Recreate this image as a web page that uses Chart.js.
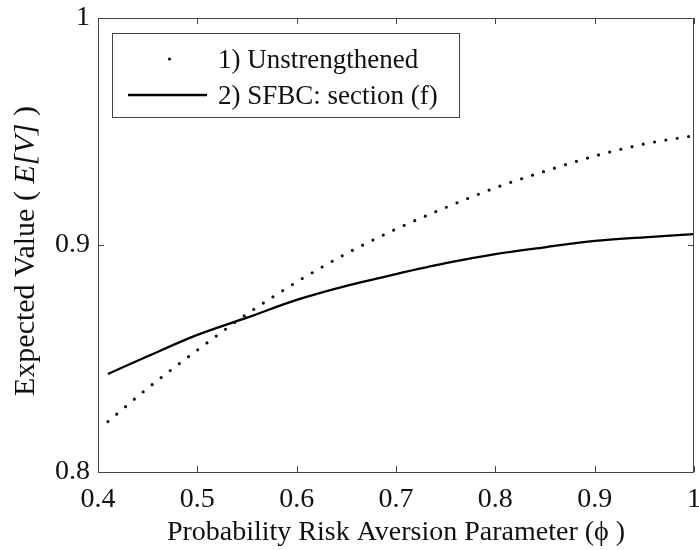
<!DOCTYPE html>
<html lang="en">
  <head>
    <meta charset="UTF-8" />
    <title>Expected Value vs Probability Risk Aversion</title>
    <style>
      html, body { margin: 0; padding: 0; background: #fff; }
      #wrap { width: 699px; height: 550px; }
    </style>
  </head>
  <body>
    <div id="wrap"><canvas id="evChart" width="699" height="550"></canvas></div>

    <script src="https://cdn.jsdelivr.net/npm/chart.js@4.4.1/dist/chart.umd.min.js"></script>
    <script>
      // Data
      const phi = [0.41, 0.45, 0.5, 0.55, 0.6, 0.65, 0.7, 0.75, 0.8, 0.85, 0.9, 0.95, 1.0];
      const unstrengthened = [0.8222, 0.8369, 0.8537, 0.8696, 0.8837, 0.8962, 0.907, 0.9165, 0.9252, 0.9325, 0.9392, 0.9445, 0.9482];
      const sfbc = [0.8432, 0.851, 0.8604, 0.868, 0.8758, 0.882, 0.8872, 0.892, 0.896, 0.899, 0.9018, 0.9034, 0.9048];
      const seriesLabels = ["1) Unstrengthened", "2) SFBC: section (f)"];
      const xTicks = [0.4, 0.5, 0.6, 0.7, 0.8, 0.9, 1];
      const xTickLabels = ["0.4", "0.5", "0.6", "0.7", "0.8", "0.9", "1"];
      const yTicks = [0.8, 0.9, 1];
      const yTickLabels = ["0.8", "0.9", "1"];

      const SERIF = "'Liberation Serif', 'Times New Roman', serif";
      const INK = "#111";
      const FRAME = "#444";

      const pairs = (xs, ys) => xs.map((x, i) => ({ x: x, y: ys[i] }));

      // MATLAB style box with inward ticks
      const frameTicks = {
        id: "frameTicks",
        afterDatasetsDraw(chart) {
          const { ctx, chartArea: a, scales } = chart;
          const len = 6;
          ctx.save();
          ctx.strokeStyle = FRAME;
          ctx.lineWidth = 1;
          ctx.beginPath();
          xTicks.forEach((v) => {
            const px = Math.round(scales.x.getPixelForValue(v)) + 0.5;
            ctx.moveTo(px, a.bottom);
            ctx.lineTo(px, a.bottom - len);
            ctx.moveTo(px, a.top);
            ctx.lineTo(px, a.top + len);
          });
          yTicks.forEach((v) => {
            const py = Math.round(scales.y.getPixelForValue(v)) + 0.5;
            ctx.moveTo(a.left, py);
            ctx.lineTo(a.left + len, py);
            ctx.moveTo(a.right, py);
            ctx.lineTo(a.right - len, py);
          });
          ctx.stroke();
          ctx.strokeRect(a.left + 0.5, a.top + 0.5, a.right - a.left - 1, a.bottom - a.top);
          ctx.restore();
        },
      };

      // legend drawn inside the axes, boxed
      const boxLegend = {
        id: "boxLegend",
        afterDraw(chart) {
          const { ctx, chartArea: a } = chart;
          const bx = a.left + 14, by = a.top + 15, bw = 347, bh = 84;
          ctx.save();
          ctx.fillStyle = "#fff";
          ctx.fillRect(bx, by, bw, bh);
          ctx.strokeStyle = FRAME;
          ctx.lineWidth = 1;
          ctx.strokeRect(bx + 0.5, by + 0.5, bw, bh);
          ctx.font = "27px " + SERIF;
          ctx.textBaseline = "alphabetic";
          ctx.fillStyle = INK;
          chart.data.datasets.forEach((ds, i) => {
            const base = by + 35 + i * 36;
            const midY = base - 9;
            const x0 = bx + 16, x1 = bx + 95;
            ctx.strokeStyle = ds.borderColor;
            if (ds.borderDash && ds.borderDash.length) {
              ctx.fillStyle = ds.borderColor;
              ctx.beginPath();
              ctx.arc((x0 + x1) / 2 + 2, midY, ds.borderWidth / 2, 0, Math.PI * 2);
              ctx.fill();
            } else {
              ctx.lineWidth = ds.borderWidth;
              ctx.beginPath();
              ctx.moveTo(x0, midY);
              ctx.lineTo(x1, midY);
              ctx.stroke();
            }
            ctx.fillStyle = INK;
            ctx.fillText(ds.label, bx + 106, base);
          });
          ctx.restore();
        },
      };

      // y title with italic E[V]
      const yTitle = {
        id: "yTitle",
        afterDraw(chart) {
          const { ctx } = chart;
          const parts = [
            ["Expected Value ( ", "normal"],
            ["E[V]", "italic"],
            [" )", "normal"],
          ];
          ctx.save();
          ctx.translate(34, 396);
          ctx.rotate(-Math.PI / 2);
          ctx.fillStyle = INK;
          ctx.textBaseline = "alphabetic";
          ctx.textAlign = "left";
          let x = 0;
          parts.forEach(([t, style]) => {
            ctx.font = style + " 30px " + SERIF;
            ctx.fillText(t, x, 0);
            x += ctx.measureText(t).width;
          });
          ctx.restore();
        },
      };

      function init() {
        const ctx = document.getElementById("evChart").getContext("2d");
        new Chart(ctx, {
          type: "line",
          data: {
            datasets: [
              {
                label: seriesLabels[0],
                data: pairs(phi, unstrengthened),
                borderColor: "#111",
                borderWidth: 3.2,
                borderDash: [0, 11.5],
                borderCapStyle: "round",
                pointRadius: 0,
                cubicInterpolationMode: "monotone",
                fill: false,
              },
              {
                label: seriesLabels[1],
                data: pairs(phi, sfbc),
                borderColor: "#000",
                borderWidth: 2.3,
                pointRadius: 0,
                cubicInterpolationMode: "monotone",
                fill: false,
              },
            ],
          },
          options: {
            responsive: false,
            animation: false,
            events: [],
            layout: { padding: { top: 18, right: 5, left: 0, bottom: 0 } },
            plugins: {
              legend: { display: false },
              tooltip: { enabled: false },
            },
            scales: {
              x: {
                type: "linear",
                min: 0.4,
                max: 1,
                grid: { display: false, drawTicks: false },
                border: { display: false },
                afterBuildTicks: (s) => {
                  s.ticks = xTicks.map((v) => ({ value: v }));
                },
                afterFit: (s) => {
                  s.height = 78;
                  s.paddingLeft = 0;
                  s.paddingRight = 0;
                },
                ticks: {
                  padding: 11,
                  color: INK,
                  maxRotation: 0,
                  autoSkip: false,
                  font: { family: SERIF, size: 28 },
                  callback: (v, i) => xTickLabels[i],
                },
                title: {
                  display: true,
                  text: "Probability Risk Aversion Parameter (\u03d5 )",
                  color: INK,
                  font: { family: SERIF, size: 28 },
                  padding: { top: 0, bottom: 1 },
                },
              },
              y: {
                min: 0.8,
                max: 1,
                grid: { display: false, drawTicks: false },
                border: { display: false },
                afterBuildTicks: (s) => {
                  s.ticks = yTicks.map((v) => ({ value: v }));
                },
                afterFit: (s) => {
                  s.width = 98;
                  s.paddingTop = 0;
                  s.paddingBottom = 0;
                },
                ticks: {
                  padding: 8,
                  color: INK,
                  font: { family: SERIF, size: 28 },
                  callback: (v, i) => yTickLabels[i],
                },
              },
            },
          },
          plugins: [frameTicks, boxLegend, yTitle],
        });
      }

      window.onload = init;
    </script>
  </body>
</html>
